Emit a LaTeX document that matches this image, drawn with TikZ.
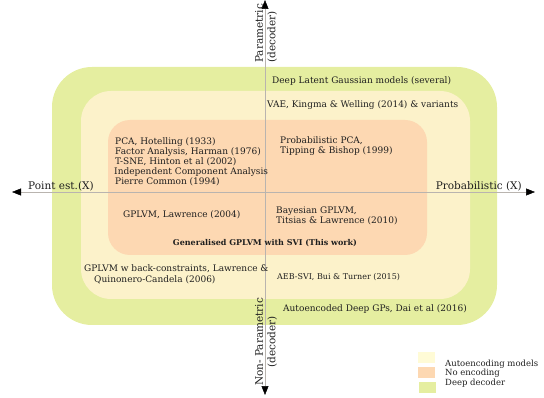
\documentclass[tikz,border=0pt]{standalone}
\usepackage{fontspec}
\setmainfont{DejaVu Serif}
\usetikzlibrary{arrows.meta}
\definecolor{deepg}{RGB}{229,238,160}
\definecolor{autoy}{RGB}{252,242,202}
\definecolor{noenc}{RGB}{253,216,178}
\definecolor{legy}{RGB}{255,251,214}
\definecolor{axisc}{RGB}{185,180,175}
\begin{document}
\begin{tikzpicture}[x=1pt,y=-1pt,
  base/.style={inner sep=0pt, text=black!88},
  big/.style={base, font=\fontsize{10.5}{12.5}\selectfont},
  mid/.style={base, font=\fontsize{9}{10}\selectfont},
  small/.style={base, font=\fontsize{8}{9.5}\selectfont},
  axisline/.style={draw=axisc, line width=0.5pt, -{Triangle[length=9pt,width=7pt,color=black]}},
  legbox/.style={draw=none, minimum width=17pt, minimum height=11pt, inner sep=0pt}]
\useasboundingbox (0,0) rectangle (544,398);
% regions
\fill[deepg, rounded corners=40pt] (52,67) rectangle (497,325);
\fill[autoy, rounded corners=30pt] (81,91) rectangle (470,299);
\fill[noenc, rounded corners=22pt] (108,120) rectangle (427,255);
% axes
\coordinate (O) at (265,192);
\coordinate (L) at (12,192);
\coordinate (R) at (535,192);
\coordinate (T) at (265,0);
\coordinate (B) at (265,395);
\draw[axisline] (O) -- (L);
\draw[axisline] (O) -- (R);
\draw[axisline] (O) -- (T);
\draw[axisline] (O) -- (B);
% axis labels
\node[big, rotate=90, anchor=west, align=left] (par) at (266,63) {Parametric\\(decoder)};
\node[big, rotate=90, align=center] (npar) at (266,342) {Non- Parametric\\(decoder)};
\node[big, anchor=west] (pe) at (28,186) {Point est.(X)};
\node[big, anchor=east] (pr) at (522,186) {Probabilistic (X)};
% texts
\node[mid, anchor=west] (dlgm) at (272,81) {Deep Latent Gaussian models (several)};
\node[mid, anchor=west] (vae) at (267,105) {VAE, Kingma \& Welling (2014) \& variants};
\node[mid, anchor=west, align=left] (pca) at (115,162) {PCA, Hotelling (1933)\\Factor Analysis, Harman (1976)\\T-SNE, Hinton et al (2002)\\\hspace*{-1pt}Independent Component Analysis\\Pierre Common (1994)};
\node[mid, anchor=west, align=left] (ppca) at (280,146) {Probabilistic PCA,\\Tipping \& Bishop (1999)};
\node[mid, anchor=west] (gplvm) at (123,215) {GPLVM, Lawrence (2004)};
\node[mid, anchor=west, align=left] (bgplvm) at (276,216) {Bayesian GPLVM,\\Titsias \& Lawrence (2010)};
\node[small, font=\fontsize{8}{9.5}\selectfont\bfseries] (gen) at (265,243) {Generalised GPLVM with SVI (This work)};
\node[mid, font=\fontsize{9}{11}\selectfont, anchor=west, align=left] (bc) at (84,274) {GPLVM w back-constraints, Lawrence \&\\\hspace*{10pt}Quinonero-Candela (2006)};
\node[small, anchor=west] (aeb) at (277,277) {AEB-SVI, Bui \& Turner (2015)};
\node[mid, anchor=west] (adgp) at (283,309) {Autoencoded Deep GPs, Dai et al (2016)};
% legend
\node[legbox, fill=legy] (ly) at (426.5,357.5) {};
\node[legbox, fill=noenc] (lo) at (426.5,372.5) {};
\node[legbox, fill=deepg] (lg) at (427.5,387) {};
\node[base, font=\fontsize{8.5}{9.5}\selectfont, anchor=west] (lty) at (445,364) {Autoencoding models};
\node[base, font=\fontsize{8.5}{9.5}\selectfont, anchor=west] (lto) at (445,373.5) {No encoding};
\node[base, font=\fontsize{8.5}{9.5}\selectfont, anchor=west] (ltg) at (445,383) {Deep decoder};
\end{tikzpicture}
\end{document}
